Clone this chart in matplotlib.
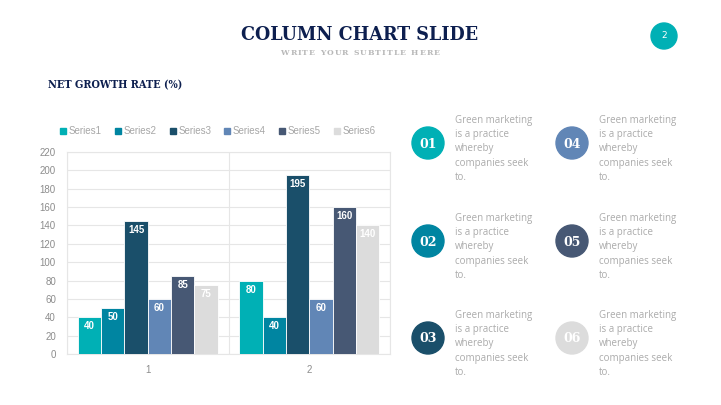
import matplotlib
matplotlib.use("Agg")
import matplotlib.pyplot as plt
from matplotlib.patches import Circle
import numpy as np

categories = ["1", "2"]
series_names = ["Series1", "Series2", "Series3", "Series4", "Series5", "Series6"]
series1 = [40, 80]
series2 = [50, 40]
series3 = [145, 195]
series4 = [60, 60]
series5 = [85, 160]
series6 = [75, 140]
series_values = [series1, series2, series3, series4, series5, series6]
colors = ["#00B0B5", "#0085A1", "#1A4F6A", "#6186B6", "#475874", "#DCDCDC"]
y_ticks = [0, 20, 40, 60, 80, 100, 120, 140, 160, 180, 200, 220]

title = "COLUMN CHART SLIDE"
subtitle = "WRITE YOUR SUBTITLE HERE"
chart_title = "NET GROWTH RATE (%)"
page_number = "2"
item_numbers = ["01", "02", "03", "04", "05", "06"]
item_text = "Green marketing\nis a practice\nwhereby\ncompanies seek\nto."

W, H = 721, 405
fig = plt.figure(figsize=(W / 100, H / 100), dpi=100)
fig.patch.set_facecolor("white")

ov = fig.add_axes([0, 0, 1, 1])
ov.set_xlim(0, W)
ov.set_ylim(H, 0)
ov.axis("off")

navy = "#0D1F4F"
ov.text(360, 35, title, ha="center", va="center", fontsize=14,
        fontweight="bold", color=navy, family="DejaVu Serif",
        fontstretch="condensed")

# letter-spaced subtitle
renderer = fig.canvas.get_renderer()
sub_kw = dict(fontsize=5.5, fontweight="bold", color="#B8B8B8", family="DejaVu Serif")
widths = []
for ch in subtitle:
    t = ov.text(0, 0, ch if ch != " " else "n", **sub_kw)
    bb = t.get_window_extent(renderer)
    widths.append(bb.width * (0.6 if ch == " " else 1.0))
    t.remove()
spacing = 1.0
total = sum(widths) + spacing * (len(subtitle) - 1)
cx = 360 - total / 2
for ch, w in zip(subtitle, widths):
    if ch != " ":
        ov.text(cx, 53, ch, ha="left", va="center", **sub_kw)
    cx += w + spacing

ov.text(48, 85, chart_title, ha="left", va="center", fontsize=7.8,
        fontweight="bold", color=navy, family="DejaVu Serif",
        fontstretch="condensed")

ov.add_patch(Circle((664, 36), 13, color="#00B0B5", zorder=2))
ov.text(664, 36, page_number, ha="center", va="center", fontsize=6.5,
        color="white", zorder=3, family="DejaVu Sans")

circ_pos = [(428, 143), (428, 241), (428, 338), (572, 143), (572, 241), (572, 338)]
for (cx0, cy), num, col in zip(circ_pos, item_numbers, colors):
    ov.add_patch(Circle((cx0, cy), 16, color=col, zorder=2))
    ov.text(cx0, cy + 1, num, ha="center", va="center", fontsize=9,
            fontweight="bold", color="white", family="DejaVu Serif", zorder=3)
    ov.text(cx0 + 27, cy - 28, item_text, ha="left", va="top", fontsize=7,
            color="#ABABAB", family="Open Sans", linespacing=1.4)

ax = fig.add_axes([67 / W, (H - 354) / H, 323 / W, (354 - 152) / H])
x = np.arange(1, len(categories) + 1)
pitch = 0.1445
n = len(series_values)
for i, (name, vals, col) in enumerate(zip(series_names, series_values, colors)):
    pos = x + (i - (n - 1) / 2) * pitch
    bars = ax.bar(pos, vals, width=pitch, color=col, edgecolor="white",
                  linewidth=0.6, label=name, zorder=3)
    for b, v in zip(bars, vals):
        ax.annotate(str(v), (b.get_x() + b.get_width() / 2, v),
                    xytext=(0, -9), textcoords="offset pixels",
                    ha="center", va="center", fontsize=7, fontweight="bold",
                    color="white", zorder=4, family="Liberation Sans")

ax.set_xlim(0.5, 2.5)
ax.set_ylim(0, 220)
ax.set_yticks(y_ticks)
ax.set_xticks(x)
ax.set_xticklabels(categories)
ax.set_xticks([0.5, 1.5, 2.5], minor=True)
ax.grid(True, axis="y", color="#E6E6E6", linewidth=0.8, zorder=0)
ax.grid(True, axis="x", which="minor", color="#E6E6E6", linewidth=0.8, zorder=0)
ax.tick_params(axis="both", which="both", length=0, labelsize=7,
               labelcolor="#8C8C8C", pad=8)
for lab in ax.get_xticklabels() + ax.get_yticklabels():
    lab.set_family("Liberation Sans")
for s in ax.spines.values():
    s.set_color("#E6E6E6")
    s.set_linewidth(0.8)

leg_x = [63, 118, 173, 227, 282, 337]
for lx, name, col in zip(leg_x, series_names, colors):
    ov.add_patch(plt.Rectangle((lx - 3, 128), 6, 6, color=col))
    ov.text(lx + 6, 131, name, ha="left", va="center", fontsize=7,
            color="#A6A6A6", family="Liberation Sans")

fig.savefig("out.png", dpi=100, facecolor="white")
